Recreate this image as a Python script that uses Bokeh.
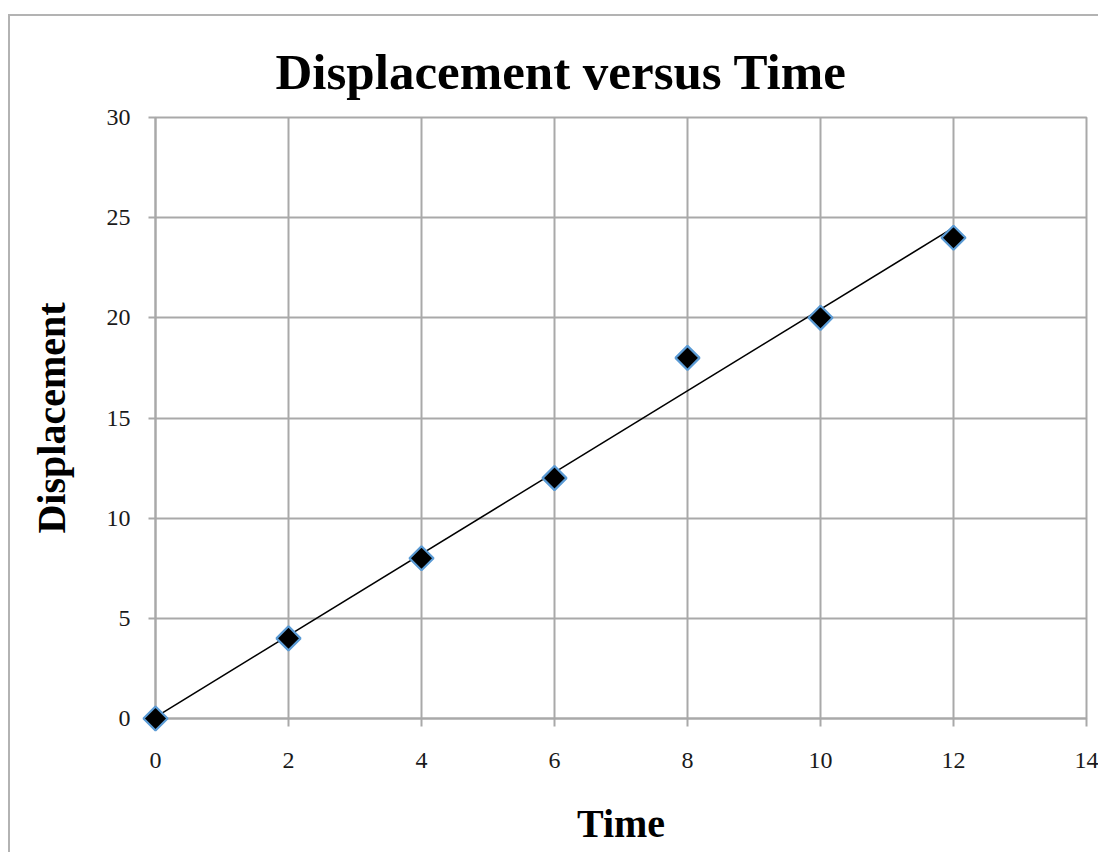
from bokeh.plotting import figure
from bokeh.models import Range1d, FixedTicker, Column
from bokeh.embed import file_html
from bokeh.resources import INLINE
import numpy as np

time = [0, 2, 4, 6, 8, 10, 12]
displacement = [0, 4, 8, 12, 18, 20, 24]
x_ticks = [0, 2, 4, 6, 8, 10, 12, 14]
y_ticks = [0, 5, 10, 15, 20, 25, 30]

GRID = "#a9a9a9"
SERIF = "Liberation Serif"

p = figure(width=1088, height=836, output_backend="svg", toolbar_location=None,
           x_range=Range1d(0, 14), y_range=Range1d(0, 30),
           min_border_left=145, min_border_right=12,
           min_border_top=101, min_border_bottom=134)

p.title.text = "Displacement versus Time"
p.title.text_font = SERIF
p.title.text_font_style = "bold"
p.title.text_font_size = "51px"
p.title.align = "left"
p.title.offset = 120
p.title.text_color = "black"
p.title.standoff = 36

p.outline_line_color = GRID
p.outline_line_width = 2
p.background_fill_color = "white"
p.border_fill_color = "white"

for ax in (p.xaxis, p.yaxis):
    ax.axis_line_color = GRID
    ax.axis_line_width = 2
    ax.major_tick_line_color = GRID
    ax.major_tick_line_width = 2
    ax.major_tick_in = 0
    ax.minor_tick_line_color = None
    ax.major_label_text_font = SERIF
    ax.major_label_text_font_size = "24px"
    ax.major_label_text_color = "#1a1a1a"
    ax.axis_label_text_font = SERIF
    ax.axis_label_text_font_style = "bold"
    ax.axis_label_text_font_size = "40px"
    ax.axis_label_text_color = "black"

p.xaxis.ticker = FixedTicker(ticks=x_ticks)
p.yaxis.ticker = FixedTicker(ticks=y_ticks)
p.xaxis.major_tick_out = 8
p.yaxis.major_tick_out = 7
p.xaxis.major_label_standoff = 26
p.yaxis.major_label_standoff = 18
p.xaxis.axis_label = "Time"
p.yaxis.axis_label = "Displacement"
p.xaxis.axis_label_standoff = 30
p.yaxis.axis_label_standoff = 30

for g in (p.xgrid, p.ygrid):
    g.grid_line_color = GRID
    g.grid_line_width = 2
p.xgrid.ticker = FixedTicker(ticks=x_ticks)
p.ygrid.ticker = FixedTicker(ticks=y_ticks)

# linear trendline (least squares fit of the data)
slope, intercept = np.polyfit(time, displacement, 1)
tx = [min(time), max(time)]
ty = [slope * v + intercept for v in tx]
p.line(tx, ty, line_color="black", line_width=1.6)

r = p.scatter(time, displacement, marker="square", size=17, angle=np.pi / 4,
              fill_color="black", line_color="#5b9bd5", line_width=2.2)
r.level = "overlay"

layout = Column(p, styles={"border-top": "2px solid #b3b3b3",
                           "border-left": "2px solid #b3b3b3",
                           "margin-left": "8px", "margin-top": "14px"})

open("out.html", "w").write(file_html(layout, INLINE))
